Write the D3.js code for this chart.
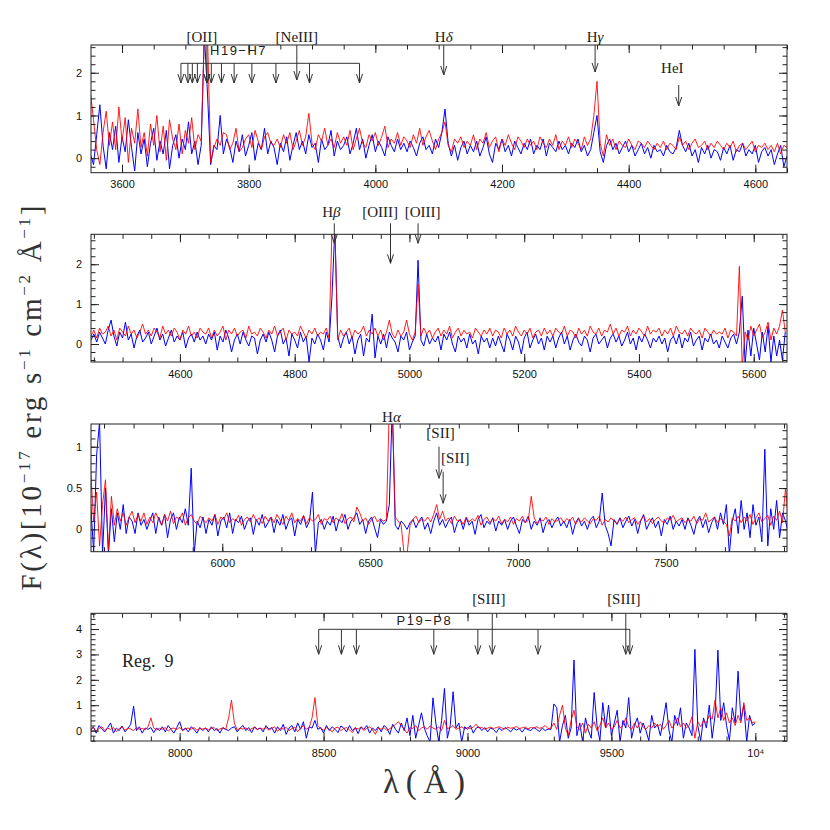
<!DOCTYPE html>
<meta charset="utf-8">
<script src="https://d3js.org/d3.v7.min.js"></script>
<style>
  body { margin: 0; background: #fff; }
</style>
<div id="my_dataviz"></div>
<script>

// ---- data : flux in 1e-17 erg/s/cm2/A, regular wavelength grids ----

// panel 1, 3550-4650 A, 5 A step
var p1Start = 3550, p1Step = 5;
var p1Red = [
  1.55, 0.9, 0.2, -0.15, 0.6, 1.1, 0.3, 0.85, 0.2, 1.2, 0.4, 0.95, -0.1, 0.7, 0.35, 1.15, 0.25, 0.6, 0.05, 0.8,   // 3550
  0.3, 1.0, 0.15, 0.75, -0.05, 0.9, 0.45, 0.2, 0.8, 0.1, 0.65, 0.35, 0.95, 0.2, 0.55, 0.4, 2.9, 2.9, -0.1, 0.25,   // 3650
  0.45, 0.3, 0.6, 0.55, 0.2, 0.35, 0.7, 0.15, 0.25, 0.45, 0.55, 0.25, 0.65, 0.4, 0.2, 0.5, 0.6, 0.35, 0.3, 0.45,   // 3750
  0.25, 0.55, 0.35, 0.6, 0.2, 0.4, 0.65, 0.3, 0.5, 1.05, 0.35, 0.2, 0.55, 0.4, 0.7, 0.3, 0.45, 0.25, 0.6, 0.35,    // 3850
  0.5, 0.3, 0.65, 0.2, 0.45, 0.7, 0.35, 0.25, 0.55, 0.4, 0.6, 0.3, 0.5, 0.75, 0.25, 0.45, 0.35, 0.6, 0.3, 0.5,     // 3950
  0.4, 0.25, 0.55, 0.35, 0.7, 0.3, 0.5, 0.65, 0.4, 0.2, 0.45, 0.6, 0.85, 0.3, 0.15, 0.45, 0.35, 0.5, 0.25, 0.4,    // 4050
  0.3, 0.55, 0.2, 0.45, 0.35, 0.6, 0.25, 0.4, 0.5, 0.15, 0.45, 0.3, 0.55, 0.35, 0.2, 0.5, 0.4, 0.25, 0.45, 0.3,    // 4150
  0.4, 0.2, 0.5, 0.35, 0.25, 0.45, 0.3, 0.55, 0.2, 0.4, 0.3, 0.5, 0.25, 0.45, 0.35, 0.2, 0.5, 0.3, 0.45, 1.0,      // 4250
  1.8, 0.35, 0.05, 0.55, 0.3, 0.45, 0.2, 0.4, 0.3, 0.25, 0.45, 0.3, 0.2, 0.4, 0.35, 0.25, 0.4, 0.3, 0.2, 0.35,     // 4350
  0.25, 0.4, 0.2, 0.35, 0.3, 0.2, 0.5, 0.3, 0.4, 0.2, 0.35, 0.45, 0.25, 0.3, 0.4, 0.2, 0.35, 0.25, 0.4, 0.3,       // 4450
  0.2, 0.35, 0.25, 0.4, 0.15, 0.3, 0.35, 0.2, 0.3, 0.4, 0.15, 0.3, 0.25, 0.35, 0.2, 0.3, 0.15, 0.35, 0.1, 0.3,     // 4550
  0.25
];
var p1Blue = [
  0.1, -0.15, 0.55, 1.25, 0.3, -0.25, 0.6, 0.2, 0.75, -0.1, 0.5, 0.15, 0.9, 0.25, -0.3, 0.6, 0.1, 0.45, -0.2, 0.35,
  0.7, -0.05, 0.4, 0.1, 0.65, -0.25, 0.3, 0.55, 0.0, 0.45, 0.2, 0.85, 0.1, 0.4, -0.15, 0.3, 2.9, 1.5, -0.15, 0.3,
  0.2, 1.0, 0.1, 0.45, 0.25, -0.1, 0.4, 0.15, 0.55, 0.05, 0.3, 0.6, -0.05, 0.35, 0.2, 0.7, 0.1, 0.4, 0.25, -0.15,
  0.35, 0.15, 0.5, -0.05, 0.3, 0.6, 0.2, 0.4, 0.1, 0.55, 0.25, 0.35, -0.1, 0.45, 0.2, 0.3, 0.65, 0.05, 0.4, 0.2,
  0.3, 0.5, 0.1, 0.35, 0.7, 0.2, 0.45, 0.0, 0.3, 0.55, 0.15, 0.4, 0.25, 0.05, 0.5, 0.3, 0.15, 0.45, 0.2, 0.35,
  0.15, 0.4, 0.25, 0.05, 0.35, 0.5, 0.2, 0.3, 0.1, 0.45, 0.25, 0.6, 1.15, 0.35, 0.05, 0.3, -0.05, 0.25, 0.4, 0.1,
  0.3, 0.15, 0.4, 0.05, 0.25, 0.5, 0.1, -0.1, 0.35, 0.2, 0.45, 0.15, 0.3, 0.05, 0.4, 0.25, 0.1, 0.35, 0.2, 0.45,
  0.1, 0.3, 0.2, 0.45, 0.05, 0.35, 0.25, 0.15, 0.4, 0.2, 0.3, 0.1, 0.35, 0.25, 0.45, 0.15, 0.3, 0.05, 0.2, 0.6,
  1.0, 0.15, -0.1, 0.3, 0.45, 0.2, 0.35, 0.1, 0.25, 0.4, 0.15, 0.3, 0.05, 0.2, 0.35, 0.1, 0.25, 0.0, 0.3, 0.15,
  0.2, 0.05, 0.3, 0.15, 0.1, 0.25, 0.65, 0.3, 0.15, 0.35, 0.05, 0.2, -0.1, 0.25, 0.1, 0.3, 0.0, 0.2, 0.15, -0.05,
  0.25, 0.1, 0.3, -0.05, 0.2, 0.15, 0.35, 0.05, 0.2, 0.1, 0.3, -0.1, 0.15, 0.25, 0.05, 0.2, -0.15, 0.1, 0.3, -0.2,
  0.05
];

// panel 2, 4445-5655 A, 5 A step
var p2Start = 4445, p2Step = 5;
var p2Red = [
  0.2, 0.35, 0.15, 0.4, 0.25, 0.3, 0.45, 0.2, 0.35, 0.1, 0.4, 0.3, 0.2, 0.45, 0.25, 0.35, 0.15, 0.3, 0.5, 0.25,    // 4445
  0.35, 0.2, 0.4, 0.3, 0.15, 0.45, 0.25, 0.35, 0.2, 0.4, 0.3, 0.1, 0.35, 0.25, 0.45, 0.2, 0.3, 0.15, 0.4, 0.3,     // 4545
  0.25, 0.4, 0.15, 0.35, 0.2, 0.3, 0.45, 0.1, 0.35, 0.25, 0.4, 0.2, 0.3, 0.35, 0.15, 0.45, 0.25, 0.3, 0.2, 0.4,    // 4645
  0.3, 0.15, 0.35, 0.25, 0.45, 0.2, 0.3, 0.4, 0.1, 0.35, 0.25, 0.3, 0.2, 0.45, 0.3, 0.15, 0.35, 0.25, 0.4, 0.2,    // 4745
  0.3, 0.25, 0.4, 0.15, 2.9, 2.9, 0.1, 0.35, 0.2, 0.3, 0.4, 0.15, 0.35, 0.25, 0.3, 0.45, 0.2, 0.35, 0.25, 0.4,     // 4845
  0.2, 0.35, 0.1, 0.3, 0.6, 0.25, 0.15, 0.35, 0.2, 0.3, 0.6, 0.25, 0.1, 0.3, 1.5, 0.2, 0.4, 0.25, 0.35, 0.15,      // 4945
  0.3, 0.4, 0.2, 0.35, 0.25, 0.45, 0.15, 0.3, 0.4, 0.2, 0.35, 0.25, 0.3, 0.15, 0.4, 0.3, 0.2, 0.35, 0.25, 0.4,     // 5045
  0.2, 0.35, 0.3, 0.15, 0.4, 0.25, 0.35, 0.2, 0.45, 0.3, 0.2, 0.35, 0.25, 0.4, 0.15, 0.3, 0.35, 0.2, 0.4, 0.25,    // 5145
  0.35, 0.2, 0.4, 0.3, 0.25, 0.45, 0.2, 0.35, 0.3, 0.15, 0.4, 0.25, 0.35, 0.2, 0.45, 0.3, 0.25, 0.4, 0.2, 0.35,    // 5245
  0.3, 0.5, 0.25, 0.4, 0.2, 0.35, 0.3, 0.45, 0.2, 0.35, 0.25, 0.4, 0.3, 0.2, 0.45, 0.25, 0.35, 0.3, 0.4, 0.2,      // 5345
  0.35, 0.25, 0.4, 0.2, 0.45, 0.3, 0.25, 0.35, 0.2, 0.4, 0.3, 0.25, 0.35, 0.15, 0.4, 0.3, 0.2, 0.35, 0.25, 0.3,    // 5445
  0.25, 0.4, 0.15, 0.35, 0.3, 0.2, 1.95, -0.6, 0.3, 0.1, 0.45, 0.2, 0.35, 0.5, 0.15, 0.3, 0.55, 0.1, 0.4, 0.25,    // 5545
  0.45, 0.85, 0.3
];
var p2Blue = [
  0.1, 0.25, 0.05, 0.3, 0.15, 0.0, 0.35, 0.6, 0.2, -0.05, 0.3, 0.15, 0.55, 0.1, 0.25, -0.1, 0.2, 0.35, 0.05, 0.15,
  0.3, 0.0, 0.2, 0.4, 0.1, 0.25, -0.05, 0.15, 0.35, 0.05, 0.2, 0.1, 0.3, -0.1, 0.15, 0.25, 0.05, 0.3, 0.1, 0.2,
  0.0, 0.25, 0.1, 0.3, -0.15, 0.2, 0.05, 0.35, 0.15, -0.2, 0.1, 0.25, 0.0, 0.3, 0.1, -0.05, 0.2, 0.15, -0.25, 0.1,
  0.25, 0.05, 0.3, 0.1, -0.2, 0.2, 0.35, 0.0, 0.15, -0.3, 0.25, 0.1, -0.1, 0.3, 0.05, 0.2, -0.45, 0.15, 0.0, 0.25,
  0.1, -0.15, 0.3, 0.05, 1.2, 2.9, 0.2, -0.1, 0.15, 0.3, 0.0, 0.2, -0.25, 0.1, 0.25, -0.3, 0.15, 0.05, 0.75, -0.35,
  0.2, 0.0, 0.25, -0.1, 0.3, 0.15, 0.05, -0.2, 0.2, 0.1, 0.3, -0.15, 0.05, 0.2, 2.1, 0.1, -0.05, 0.25, 0.0, 0.15,
  0.05, 0.2, -0.15, 0.25, 0.1, 0.3, 0.0, -0.2, 0.2, 0.05, 0.15, -0.1, 0.25, 0.0, 0.1, -0.25, 0.2, 0.05, 0.15, -0.1,
  0.15, -0.05, 0.2, 0.0, -0.2, 0.25, 0.1, -0.15, 0.2, 0.05, -0.25, 0.15, 0.3, -0.1, 0.1, 0.25, 0.0, 0.15, -0.15, 0.2,
  0.05, 0.2, -0.1, 0.15, 0.3, 0.0, 0.2, -0.15, 0.1, 0.25, 0.05, -0.05, 0.2, 0.1, -0.2, 0.15, 0.25, 0.0, 0.1, 0.2,
  -0.1, 0.15, 0.25, 0.05, 0.2, -0.05, 0.1, 0.3, 0.0, 0.15, -0.15, 0.2, 0.05, 0.25, 0.1, -0.1, 0.15, 0.05, 0.2, 0.0,
  0.15, -0.2, 0.1, 0.2, 0.0, 0.25, -0.1, 0.15, 0.05, 0.3, -0.05, 0.1, 0.2, -0.15, 0.15, 0.05, 0.25, 0.0, 0.1, -0.1,
  0.2, 0.05, -0.1, 0.15, 0.25, 0.0, 0.3, 1.2, -0.5, 0.35, -0.3, 0.4, 0.0, -0.4, 0.3, -0.2, 0.45, -0.45, 0.2, -0.3,
  0.1, -0.4, 0.3
];

// panel 3, 5555-7915 A, 10 A step
var p3Start = 5555, p3Step = 10;
var p3Red = [
  0.7, 0.1, 0.45, -0.2, 0.3, 0.6, -0.25, 0.4, 0.05, 0.25, 0.1, 0.2, 0.05, 0.15, 0.22, 0.08, 0.18, 0.1, 0.2, 0.06,          // 5555
  0.15, 0.08, 0.2, 0.12, 0.05, 0.18, 0.1, 0.22, 0.07, 0.15, 0.12, 0.2, 0.05, 0.14, 0.18, 0.1, 0.06, 0.16, 0.12, 0.08,      // 5755
  0.14, 0.1, 0.18, 0.06, 0.15, 0.12, 0.2, 0.08, 0.13, 0.1, 0.17, 0.05, 0.12, 0.15, 0.09, 0.18, 0.1, 0.14, 0.07, 0.16,      // 5955
  0.1, 0.15, 0.08, 0.18, 0.12, 0.06, 0.16, 0.11, 0.2, 0.08, 0.13, 0.1, 0.17, 0.07, 0.14, 0.1, 0.12, 0.18, 0.06, 0.13,      // 6155
  0.11, 0.16, 0.08, 0.14, 0.1, 0.19, 0.07, 0.13, 0.15, 0.09, 0.27, 0.2, 0.1, 0.14, 0.06, 0.12, 0.16, 0.09, 0.13, 0.1,      // 6355
  0.12, 1.5, 1.5, 0.15, 0.1, 0.05, -0.3, -0.3, 0.05, 0.12, 0.16, 0.08, 0.13, 0.1, 0.15, 0.09, 0.18, 0.3, 0.12, 0.22,       // 6555
  0.1, 0.14, 0.07, 0.16, 0.1, 0.12, 0.06, 0.15, 0.09, 0.13, 0.1, 0.17, 0.05, 0.12, 0.15, 0.08, 0.13, 0.1, 0.16, 0.07,      // 6755
  0.12, 0.09, 0.15, 0.06, 0.13, 0.1, 0.16, 0.08, 0.11, 0.4, 0.14, 0.07, 0.12, 0.1, 0.15, 0.06, 0.13, 0.09, 0.11, 0.14,     // 6955
  0.08, 0.13, 0.1, 0.15, 0.06, 0.12, 0.09, 0.14, 0.1, 0.07, 0.13, 0.11, 0.16, 0.05, 0.12, 0.09, 0.14, 0.1, 0.07, 0.13,     // 7155
  0.1, 0.15, 0.08, 0.12, 0.14, 0.06, 0.11, 0.16, 0.09, 0.13, 0.07, 0.12, 0.15, 0.1, 0.08, 0.14, 0.11, 0.17, 0.09, 0.12,    // 7355
  0.14, 0.08, 0.12, 0.1, 0.16, 0.07, 0.13, 0.11, 0.2, 0.09, 0.12, 0.15, 0.08, 0.13, 0.1, 0.06, -0.08, 0.14, 0.1, 0.16,     // 7555
  0.08, 0.15, 0.1, 0.18, 0.06, 0.14, 0.2, 0.09, 0.13, 0.17, 0.05, 0.16, 0.11, 0.22, 0.08, 0.5, 0.12                        // 7755
];
var p3Blue = [
  0.3, -0.27, 0.9, 1.3, -0.3, 0.5, -0.3, 0.25, -0.15, 0.2, 0.0, 0.3, -0.05, 0.15, 0.1, -0.05, 0.2, 0.05, 0.12, 0.0,
  0.1, 0.2, -0.05, 0.15, 0.05, 0.18, -0.1, 0.12, 0.2, 0.0, 0.15, 0.08, 0.25, 0.05, 0.74, -0.3, 0.1, 0.02, 0.15, -0.05,
  0.12, 0.05, 0.18, -0.08, 0.1, 0.15, 0.02, 0.2, -0.05, 0.12, 0.08, 0.16, 0.0, 0.1, 0.14, -0.06, 0.12, 0.05, 0.18, 0.02,
  0.08, 0.15, -0.04, 0.12, 0.05, 0.18, 0.0, 0.1, 0.14, -0.08, 0.12, 0.06, 0.16, 0.02, 0.1, 0.45, -0.3, 0.08, 0.12, 0.0,
  0.1, 0.05, 0.16, -0.02, 0.12, 0.08, 0.18, 0.0, 0.1, 0.14, 0.2, 0.06, 0.12, -0.05, 0.1, 0.15, 0.02, -0.1, 0.12, 0.06,
  0.1, 0.3, 1.5, 0.05, 0.0, 0.1, 0.06, 0.0, 0.08, 0.12, 0.02, 0.1, 0.15, 0.0, 0.08, -0.05, 0.1, 0.2, 0.05, 0.12,
  0.02, 0.1, 0.15, -0.04, 0.08, 0.12, 0.0, 0.14, 0.05, 0.1, -0.06, 0.12, 0.18, 0.02, 0.1, 0.06, 0.14, -0.02, 0.1, 0.05,
  0.12, 0.0, 0.1, 0.15, 0.04, -0.05, 0.12, 0.08, 0.16, 0.0, 0.1, 0.05, 0.14, -0.04, 0.08, 0.12, 0.02, 0.1, 0.15, 0.04,
  0.1, 0.02, 0.12, -0.06, 0.08, 0.14, 0.04, 0.1, 0.0, 0.12, 0.16, 0.02, 0.1, 0.44, 0.05, -0.05, -0.2, 0.12, 0.06, 0.14,
  0.02, 0.1, 0.16, 0.04, 0.12, -0.05, 0.1, 0.18, 0.0, 0.08, 0.14, 0.02, 0.1, -0.08, 0.12, 0.06, 0.16, 0.0, 0.1, 0.04,
  0.12, 0.0, 0.14, 0.05, -0.06, 0.1, 0.16, 0.02, 0.12, -0.04, 0.08, 0.15, 0.0, 0.2, 0.06, 0.3, -0.3, 0.1, 0.25, -0.05,
  0.35, 0.0, 0.2, -0.1, 0.3, 0.05, 0.15, -0.15, 0.97, -0.2, 0.25, 0.0, 0.35, -0.1, 0.2, 0.1, -0.05
];

// panel 4, 7690-10000 A, 10 A step
var p4Start = 7690, p4Step = 10;
var p4Red = [
  0.05, 0.12, -0.02, 0.08, 0.15, 0.0, 0.1, 0.04, 0.12, -0.04, 0.08, 0.14, 0.02, 0.1, 0.06, 0.0, 0.12, 0.05, 0.09, 0.03,    // 7690
  0.15, 0.5, 0.1, 0.02, 0.09, 0.05, 0.12, -0.02, 0.08, 0.1, 0.04, 0.13, 0.0, 0.07, 0.1, 0.05, 0.12, 0.02, 0.08, 0.06,      // 7890
  0.1, 0.03, 0.08, 0.12, 0.0, 0.07, 0.1, 0.05, 0.5, 1.2, 0.3, 0.02, 0.09, 0.06, 0.11, 0.0, 0.08, 0.12, 0.04, 0.1,          // 8090
  0.05, 0.12, 0.02, 0.09, 0.15, -0.03, 0.1, 0.06, 0.13, 0.0, 0.08, 0.14, -0.05, 0.1, 0.2, 0.05, 0.12, 0.5, 1.3, 0.2,       // 8290
  0.08, 0.02, 0.12, 0.05, -0.05, 0.1, 0.14, 0.0, 0.08, 0.12, 0.03, -0.08, 0.1, 0.06, 0.13, 0.0, 0.09, 0.15, 0.04, -0.15,   // 8490
  0.1, 0.05, 0.12, 0.0, 0.08, 0.15, 0.25, 0.35, 0.2, 0.05, -0.1, 0.12, 0.08, 0.2, 0.0, 0.1, 0.15, 0.05, 0.18, 0.1,         // 8690
  0.05, 0.15, 0.0, 0.4, 0.08, 0.12, 0.2, 0.05, 0.1, 0.15, 0.06, 0.12, 0.08, 0.14, 0.25, 0.1, 0.12, 0.06, 0.1, 0.14,        // 8890
  0.08, 0.12, 0.15, 0.1, 0.06, 0.13, 0.09, 0.12, 0.16, 0.08, 0.11, 0.14, 0.07, 0.12, 0.1, 0.15, 0.09, 0.12, 0.2, 0.08,     // 9090
  0.1, 0.3, 0.05, 0.6, 1.0, 0.1, -0.2, 0.4, 0.8, 0.15, 0.05, 0.3, -0.1, 0.25, 0.1, 0.35, 0.0, 0.2, 0.5, 0.1,               // 9290
  0.3, 0.05, 0.15, 0.4, 0.1, 0.2, 0.5, 0.15, 0.05, 0.3, 0.1, 0.35, 0.15, 0.05, 0.2, 0.1, 0.3, 0.15, 0.25, 0.05,            // 9490
  0.2, 0.4, 0.1, 0.25, 0.5, 0.15, 0.3, 0.1, 0.2, 0.55, -0.3, 0.35, 0.15, 0.4, 0.3, 0.6, 0.45, 1.2, 0.5, 0.9,               // 9690
  0.4, 0.7, 0.3, 0.5, 0.2, 0.6, 0.3, 1.1, 0.4, 0.5, 0.3, 0.35                                                              // 9890
];
var p4Blue = [
  0.0, 0.15, -0.1, 0.2, 0.05, -0.05, 0.12, 0.3, -0.1, 0.1, 0.0, 0.18, -0.05, 0.08, 0.25, 0.96, 0.0, 0.15, -0.1, 0.1,
  0.05, 0.12, -0.08, 0.1, 0.0, 0.15, -0.05, 0.2, 0.05, -0.1, 0.12, 0.35, 0.0, 0.1, -0.05, 0.15, 0.05, -0.1, 0.12, 0.0,
  0.1, -0.05, 0.15, 0.0, 0.08, -0.1, 0.12, 0.05, 0.0, 0.1, 0.15, -0.05, 0.1, 0.2, 0.0, 0.12, -0.08, 0.15, 0.05, 0.1,
  -0.05, 0.2, 0.05, 0.12, -0.1, 0.15, 0.0, 0.25, -0.15, 0.1, 0.2, -0.05, 0.3, 0.05, 0.35, -0.3, 0.15, 0.1, 0.4, 0.05,
  0.12, -0.1, 0.2, 0.0, 0.15, 0.05, -0.08, 0.18, 0.1, -0.05, 0.2, 0.0, 0.12, -0.12, 0.15, 0.05, 0.2, -0.1, 0.1, 0.0,
  0.15, -0.05, 0.2, 0.1, -0.15, 0.25, 0.05, -0.1, 0.3, 0.0, 0.5, -0.2, 0.6, -0.3, 0.2, 0.7, 0.1, -0.2, -0.45, 1.29,
  0.3, -0.45, 0.4, 1.66, -0.3, 0.2, 1.53, 0.1, 0.3, -0.45, 0.15, 0.05, 0.2, -0.1, 0.1, 0.15, 0.0, 0.12, -0.05, 0.1,
  0.05, -0.08, 0.1, 0.0, 0.12, 0.05, -0.05, 0.1, 0.02, 0.08, -0.06, 0.1, 0.04, 0.0, 0.12, 0.05, -0.04, 0.1, 0.0, 0.06,
  0.05, 1.05, 0.9, -0.45, 0.2, 0.6, -0.3, 0.1, 2.78, -0.2, 0.3, -0.45, 0.5, 0.0, -0.3, 1.5, 0.2, -0.4, 1.1, 0.1,
  1.0, -0.2, 0.3, 0.8, -0.45, 0.4, 0.1, 1.3, -0.3, 0.2, 0.5, -0.1, 0.3, 0.0, -0.4, 0.6, 0.1, 0.25, -0.2, 0.4,
  1.1, 0.0, -0.45, 0.6, 0.2, 0.9, -0.3, 0.3, 0.1, -0.2, 3.2, 0.2, -0.4, 0.5, 0.1, 1.0, -0.3, 0.6, 3.17, 0.4,
  1.1, 0.2, -0.4, 0.9, 0.3, 2.34, 0.4, 1.0, -0.45, 0.6, 0.2, 0.3
];

// tick labels
var p1XTicks = [3600, 3800, 4000, 4200, 4400, 4600];
var p2XTicks = [4600, 4800, 5000, 5200, 5400, 5600];
var p3XTicks = [6000, 6500, 7000, 7500];
var p4XTicks = [8000, 8500, 9000, 9500, 10000];
var p1YTicks = [0, 1, 2];
var p2YTicks = [0, 1, 2];
var p3YTicks = [0, 0.5, 1];
var p4YTicks = [0, 1, 2, 3, 4];

// line identifications (observed wavelengths)
var balmerWaves = [3693, 3704, 3711, 3719, 3734, 3741, 3757, 3777, 3805, 3843, 3896, 3975];
var paschenWaves = [8483, 8562, 8614, 8883, 9036, 9245, 9564];

// ---- layout ----
var left = 91, right = 787, panelH = 127.7;
var panelTop = [45, 234.3, 424, 613.3];

var svg = d3.select("#my_dataviz")
  .append("svg")
    .attr("width", 830)
    .attr("height", 830);

var panels = [
  {start: p1Start, step: p1Step, red: p1Red, blue: p1Blue, xd: [3551, 4650], yd: [-0.34, 2.65],
   xt: p1XTicks, xm: 50, yt: p1YTicks, ym: 0.2},
  {start: p2Start, step: p2Step, red: p2Red, blue: p2Blue, xd: [4445, 5658], yd: [-0.45, 2.75],
   xt: p2XTicks, xm: 50, yt: p2YTicks, ym: 0.2},
  {start: p3Start, step: p3Step, red: p3Red, blue: p3Blue, xd: [5556, 7910], yd: [-0.27, 1.275],
   xt: p3XTicks, xm: 100, yt: p3YTicks, ym: 0.1},
  {start: p4Start, step: p4Step, red: p4Red, blue: p4Blue, xd: [7692, 10110], yd: [-0.41, 4.62],
   xt: p4XTicks, xm: 100, yt: p4YTicks, ym: 0.2}
];

function minorTicks(d, s) {
  var out = [];
  for (var v = Math.ceil(d[0] / s) * s; v <= d[1]; v += s) out.push(+v.toFixed(3));
  return out;
}

function styleAxis(a) {
  a.select(".domain").remove();
  a.selectAll("line").attr("stroke", "#222");
  a.attr("font-family", "Liberation Sans, Arial, sans-serif").attr("font-size", 11);
  a.selectAll("text").attr("fill", "#111");
}

panels.forEach(function(p, i) {
  var g = svg.append("g").attr("transform", "translate(0," + panelTop[i] + ")");
  var x = d3.scaleLinear().domain(p.xd).range([left, right]);
  var y = d3.scaleLinear().domain(p.yd).range([panelH, 0]);
  p.g = g; p.x = x; p.y = y;

  g.append("clipPath").attr("id", "clip" + i)
    .append("rect").attr("x", left).attr("y", 0).attr("width", right - left).attr("height", panelH);

  var line = d3.line()
    .x(function(d, j) { return x(p.start + j * p.step); })
    .y(function(d) { return y(d); });

  var plot = g.append("g").attr("clip-path", "url(#clip" + i + ")");
  plot.append("path").datum(p.blue)
    .attr("fill", "none").attr("stroke", "#0000ff").attr("stroke-width", 1).attr("d", line);
  plot.append("path").datum(p.red)
    .attr("fill", "none").attr("stroke", "#ff0000").attr("stroke-width", 1)
    .attr("stroke-opacity", 0.88).attr("d", line);

  var xMinor = minorTicks(p.xd, p.xm), yMinor = minorTicks(p.yd, p.ym);
  var xFmt = function(d) { return d === 10000 ? "10\u2074" : String(d); };
  var yFmt = function(d) { return String(d); };

  // bottom / top
  styleAxis(g.append("g").attr("transform", "translate(0," + panelH + ")")
    .call(d3.axisBottom(x).tickValues(p.xt).tickSize(-8).tickPadding(8).tickFormat(xFmt)));
  styleAxis(g.append("g").attr("transform", "translate(0," + panelH + ")")
    .call(d3.axisBottom(x).tickValues(xMinor).tickSize(-4.5).tickFormat("")));
  styleAxis(g.append("g").call(d3.axisTop(x).tickValues(p.xt).tickSize(-8).tickFormat("")));
  styleAxis(g.append("g").call(d3.axisTop(x).tickValues(xMinor).tickSize(-4.5).tickFormat("")));
  // left / right
  styleAxis(g.append("g").attr("transform", "translate(" + left + ",0)")
    .call(d3.axisLeft(y).tickValues(p.yt).tickSize(-8).tickPadding(9).tickFormat(yFmt)));
  styleAxis(g.append("g").attr("transform", "translate(" + left + ",0)")
    .call(d3.axisLeft(y).tickValues(yMinor).tickSize(-4.5).tickFormat("")));
  styleAxis(g.append("g").attr("transform", "translate(" + right + ",0)")
    .call(d3.axisRight(y).tickValues(p.yt).tickSize(-8).tickFormat("")));
  styleAxis(g.append("g").attr("transform", "translate(" + right + ",0)")
    .call(d3.axisRight(y).tickValues(yMinor).tickSize(-4.5).tickFormat("")));

  g.append("rect")
    .attr("x", left).attr("y", 0).attr("width", right - left).attr("height", panelH)
    .attr("fill", "none").attr("stroke", "#222").attr("stroke-width", 1);
});

// ---- annotations ----
var ink = "#333";

function arrow(g, xp, y0, y1) {
  g.append("line").attr("x1", xp).attr("x2", xp).attr("y1", y0).attr("y2", y1)
    .attr("stroke", ink).attr("stroke-width", 1);
  g.append("path")
    .attr("d", "M" + (xp - 3) + "," + (y1 - 9) + "L" + xp + "," + y1 + "L" + (xp + 3) + "," + (y1 - 9))
    .attr("fill", "none").attr("stroke", ink).attr("stroke-width", 1);
}

function bracket(g, x, waves, yb, tip) {
  g.append("line")
    .attr("x1", x(waves[0])).attr("x2", x(waves[waves.length - 1]))
    .attr("y1", yb).attr("y2", yb).attr("stroke", ink).attr("stroke-width", 1);
  waves.forEach(function(w) { arrow(g, x(w), yb, tip); });
}

// serif label, greek part in italic
function label(g, xp, yp, main, greek, size) {
  var t = g.append("text").attr("x", xp).attr("y", yp)
    .attr("text-anchor", "middle")
    .attr("font-family", "Liberation Serif, Times New Roman, serif")
    .attr("font-size", size || 15).attr("fill", "#222");
  t.append("tspan").text(main);
  if (greek) t.append("tspan").attr("font-style", "italic").text(greek);
  return t;
}

function sansLabel(g, xp, yp, txt) {
  g.append("text").attr("x", xp).attr("y", yp)
    .attr("text-anchor", "middle")
    .attr("font-family", "Liberation Sans, Arial, sans-serif")
    .attr("font-size", 13).attr("letter-spacing", 1.5).attr("fill", "#222")
    .text(txt);
}

// panel 1
(function() {
  var g = panels[0].g, x = panels[0].x;
  label(g, x(3726), -3, "[OII]");
  arrow(g, x(3734), 0, 38);
  label(g, x(3876), -3, "[NeIII]");
  arrow(g, x(3876), 0, 35);
  label(g, x(4108), -3, "H", "\u03b4");
  arrow(g, x(4108), 0, 30);
  label(g, x(4347), -3, "H", "\u03b3");
  arrow(g, x(4347), 0, 27);
  label(g, x(4469), 28, "HeI");
  arrow(g, x(4479), 40, 61);
  sansLabel(g, x(3784), 10, "H19\u2212H7");
  bracket(g, x, balmerWaves, 18.3, 38);
})();

// panel 2
(function() {
  var g = panels[1].g, x = panels[1].x;
  label(g, x(4864), -17, "H", "\u03b2");
  arrow(g, x(4869), -11, 9);
  label(g, x(4949), -17, "[OIII]");
  arrow(g, x(4967), -11, 29);
  label(g, x(5023), -17, "[OIII]");
  arrow(g, x(5015), -11, 9);
})();

// panel 3
(function() {
  var g = panels[2].g, x = panels[2].x;
  label(g, x(6572), -2, "H", "\u03b1");
  label(g, x(6738), 13.5, "[SII]");
  arrow(g, x(6733), 22.7, 54.3);
  label(g, x(6788), 39, "[SII]");
  arrow(g, x(6747), 47.7, 79.3);
})();

// panel 4
(function() {
  var g = panels[3].g, x = panels[3].x;
  label(g, x(9074), -9, "[SIII]");
  arrow(g, x(9086), 0, 41);
  label(g, x(9543), -9, "[SIII]");
  arrow(g, x(9550), 0, 41);
  sansLabel(g, x(8850), 12, "P19\u2212P8");
  bracket(g, x, paschenWaves, 16, 41);
  g.append("text").attr("x", left + 31).attr("y", 54)
    .attr("font-family", "Liberation Serif, Times New Roman, serif")
    .attr("font-size", 18).attr("fill", "#222")
    .text("Reg.\u00a0\u00a09");
})();

// ---- axis titles ----
var yTitle = svg.append("text")
  .attr("transform", "translate(41,398) rotate(-90)")
  .attr("text-anchor", "middle")
  .attr("font-family", "Liberation Serif, Times New Roman, serif")
  .attr("font-size", 29).attr("fill", "#333")
  .attr("textLength", 385).attr("lengthAdjust", "spacing");
[["F(\u03bb)[10", 0], ["\u221217", 1], [" erg s", 0], ["\u22121", 1], [" cm", 0], ["\u22122", 1],
 [" \u00c5", 0], ["\u22121", 1], ["]", 0]].forEach(function(s, k, arr) {
  var ts = yTitle.append("tspan").text(s[0]);
  if (s[1]) ts.attr("font-size", 17).attr("dy", -11);
  else if (k > 0 && arr[k - 1][1]) ts.attr("dy", 11);
});

svg.append("text")
  .attr("x", 424).attr("y", 793)
  .attr("text-anchor", "middle")
  .attr("font-family", "Liberation Serif, Times New Roman, serif")
  .attr("font-size", 33).attr("fill", "#333")
  .attr("textLength", 82).attr("lengthAdjust", "spacing")
  .text("\u03bb(\u00c5)");

</script>
